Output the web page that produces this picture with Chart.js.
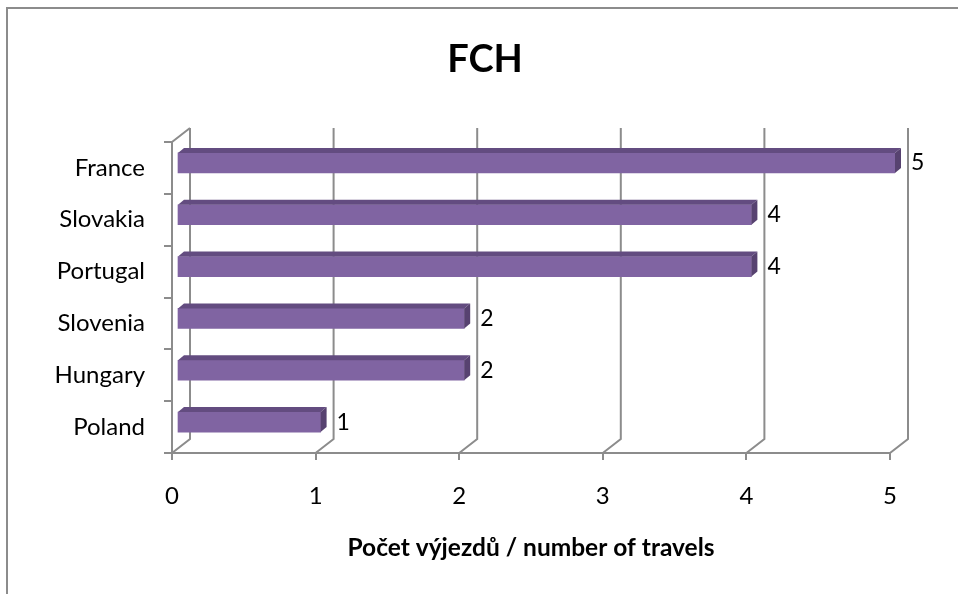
<!DOCTYPE html>
<html>
<head>
<meta charset="utf-8">
<script src="https://cdn.jsdelivr.net/npm/chart.js@4/dist/chart.umd.min.js"></script>
<style>
  html, body { margin: 0; padding: 0; background: #fff; overflow: hidden; }
  #wrap { position: relative; width: 958px; height: 594px; }
</style>
</head>
<body>
<div id="wrap"><canvas id="myChart" width="958" height="594"></canvas></div>
<script>
var countries = ['France', 'Slovakia', 'Portugal', 'Slovenia', 'Hungary', 'Poland'];
var travels = [5, 4, 4, 2, 2, 1];
var chartTitle = 'FCH';
var axisTitle = 'Počet výjezdů / number of travels';

var GRID = '#8c8c8c';
var WALL_DX = 18, WALL_DY = -14;   // back plane offset
var BAR_DX = 5, BAR_DY = -5;       // bar front face offset
var DEPTH_DX = 6, DEPTH_DY = -5;   // bar depth

// outer frame, title, back wall grid
var wallPlugin = {
    id: 'wall',
    beforeDraw: function (chart) {
        var ctx = chart.ctx;
        ctx.save();
        ctx.strokeStyle = GRID;
        ctx.lineWidth = 2;
        ctx.strokeRect(7, 8, 2000, 2000);
        // title is centred on the whole frame, not on the plot
        ctx.fillStyle = '#000';
        ctx.font = 'bold 38px Lato';
        ctx.textAlign = 'center';
        ctx.textBaseline = 'middle';
        ctx.fillText(chartTitle, 485, 60);
        ctx.restore();
    },
    beforeDatasetsDraw: function (chart) {
        var ctx = chart.ctx, a = chart.chartArea, xs = chart.scales.x;
        ctx.save();
        ctx.strokeStyle = GRID;
        ctx.lineWidth = 2;
        ctx.beginPath();
        xs.ticks.forEach(function (t) {
            var px = xs.getPixelForValue(t.value);
            ctx.moveTo(px, a.bottom);
            ctx.lineTo(px + WALL_DX, a.bottom + WALL_DY);
            ctx.lineTo(px + WALL_DX, a.top + WALL_DY);
        });
        ctx.moveTo(a.left, a.top);
        ctx.lineTo(a.left + WALL_DX, a.top + WALL_DY);
        ctx.stroke();
        ctx.restore();
    }
};

// 3D faces on the bars + value labels
var bar3d = {
    id: 'bar3d',
    beforeDatasetDraw: function (chart) {
        chart.ctx.save();
        chart.ctx.translate(BAR_DX, BAR_DY);
    },
    afterDatasetDraw: function (chart, args) {
        var ctx = chart.ctx;
        args.meta.data.forEach(function (bar) {
            var p = bar.getProps(['x', 'y', 'base', 'height'], true);
            var top = p.y - p.height / 2, bot = p.y + p.height / 2;
            ctx.fillStyle = '#634c80';
            ctx.beginPath();
            ctx.moveTo(p.base, top);
            ctx.lineTo(p.base + DEPTH_DX, top + DEPTH_DY);
            ctx.lineTo(p.x + DEPTH_DX, top + DEPTH_DY);
            ctx.lineTo(p.x, top);
            ctx.closePath();
            ctx.fill();
            ctx.fillStyle = '#574270';
            ctx.beginPath();
            ctx.moveTo(p.x, top);
            ctx.lineTo(p.x + DEPTH_DX, top + DEPTH_DY);
            ctx.lineTo(p.x + DEPTH_DX, bot + DEPTH_DY);
            ctx.lineTo(p.x, bot);
            ctx.closePath();
            ctx.fill();
        });
        ctx.restore();
    },
    afterDatasetsDraw: function (chart) {
        var ctx = chart.ctx, xs = chart.scales.x;
        var meta = chart.getDatasetMeta(0);
        ctx.save();
        ctx.fillStyle = '#000';
        ctx.font = '23px Lato';
        ctx.textAlign = 'left';
        ctx.textBaseline = 'middle';
        meta.data.forEach(function (bar, i) {
            var px = xs.getPixelForValue(travels[i]);
            ctx.fillText(String(travels[i]), px + 21, bar.y + BAR_DY);
        });
        ctx.restore();
    }
};

new Chart(document.getElementById('myChart'), {
    type: 'bar',
    data: {
        labels: countries,
        datasets: [{
            data: travels,
            backgroundColor: '#8064a2',
            borderWidth: 0,
            barThickness: 20
        }]
    },
    plugins: [wallPlugin, bar3d],
    options: {
        indexAxis: 'y',
        responsive: false,
        animation: false,
        layout: { padding: { left: 0, right: 68, top: 142, bottom: 0 } },
        plugins: {
            legend: { display: false },
            tooltip: { enabled: false },
            title: { display: false }
        },
        scales: {
            x: {
                min: 0,
                max: 5,
                ticks: {
                    stepSize: 1,
                    color: '#000',
                    padding: 22,
                    font: { family: 'Lato', size: 24 }
                },
                grid: { drawOnChartArea: false, tickLength: 7, color: GRID, lineWidth: 2 },
                border: { color: GRID, width: 2 },
                title: {
                    display: true,
                    text: axisTitle,
                    color: '#000',
                    font: { family: 'Lato', size: 24.5, weight: 'bold' },
                    padding: { top: 0, bottom: 31 }
                },
                afterFit: function (s) { s.height = 141; }
            },
            y: {
                ticks: {
                    color: '#000',
                    padding: 19,
                    font: { family: 'Lato', size: 24 }
                },
                grid: { drawOnChartArea: false, offset: true, tickLength: 8, color: GRID, lineWidth: 2 },
                border: { color: GRID, width: 2 },
                afterFit: function (s) { s.width = 172; }
            }
        }
    }
});
</script>
</body>
</html>
